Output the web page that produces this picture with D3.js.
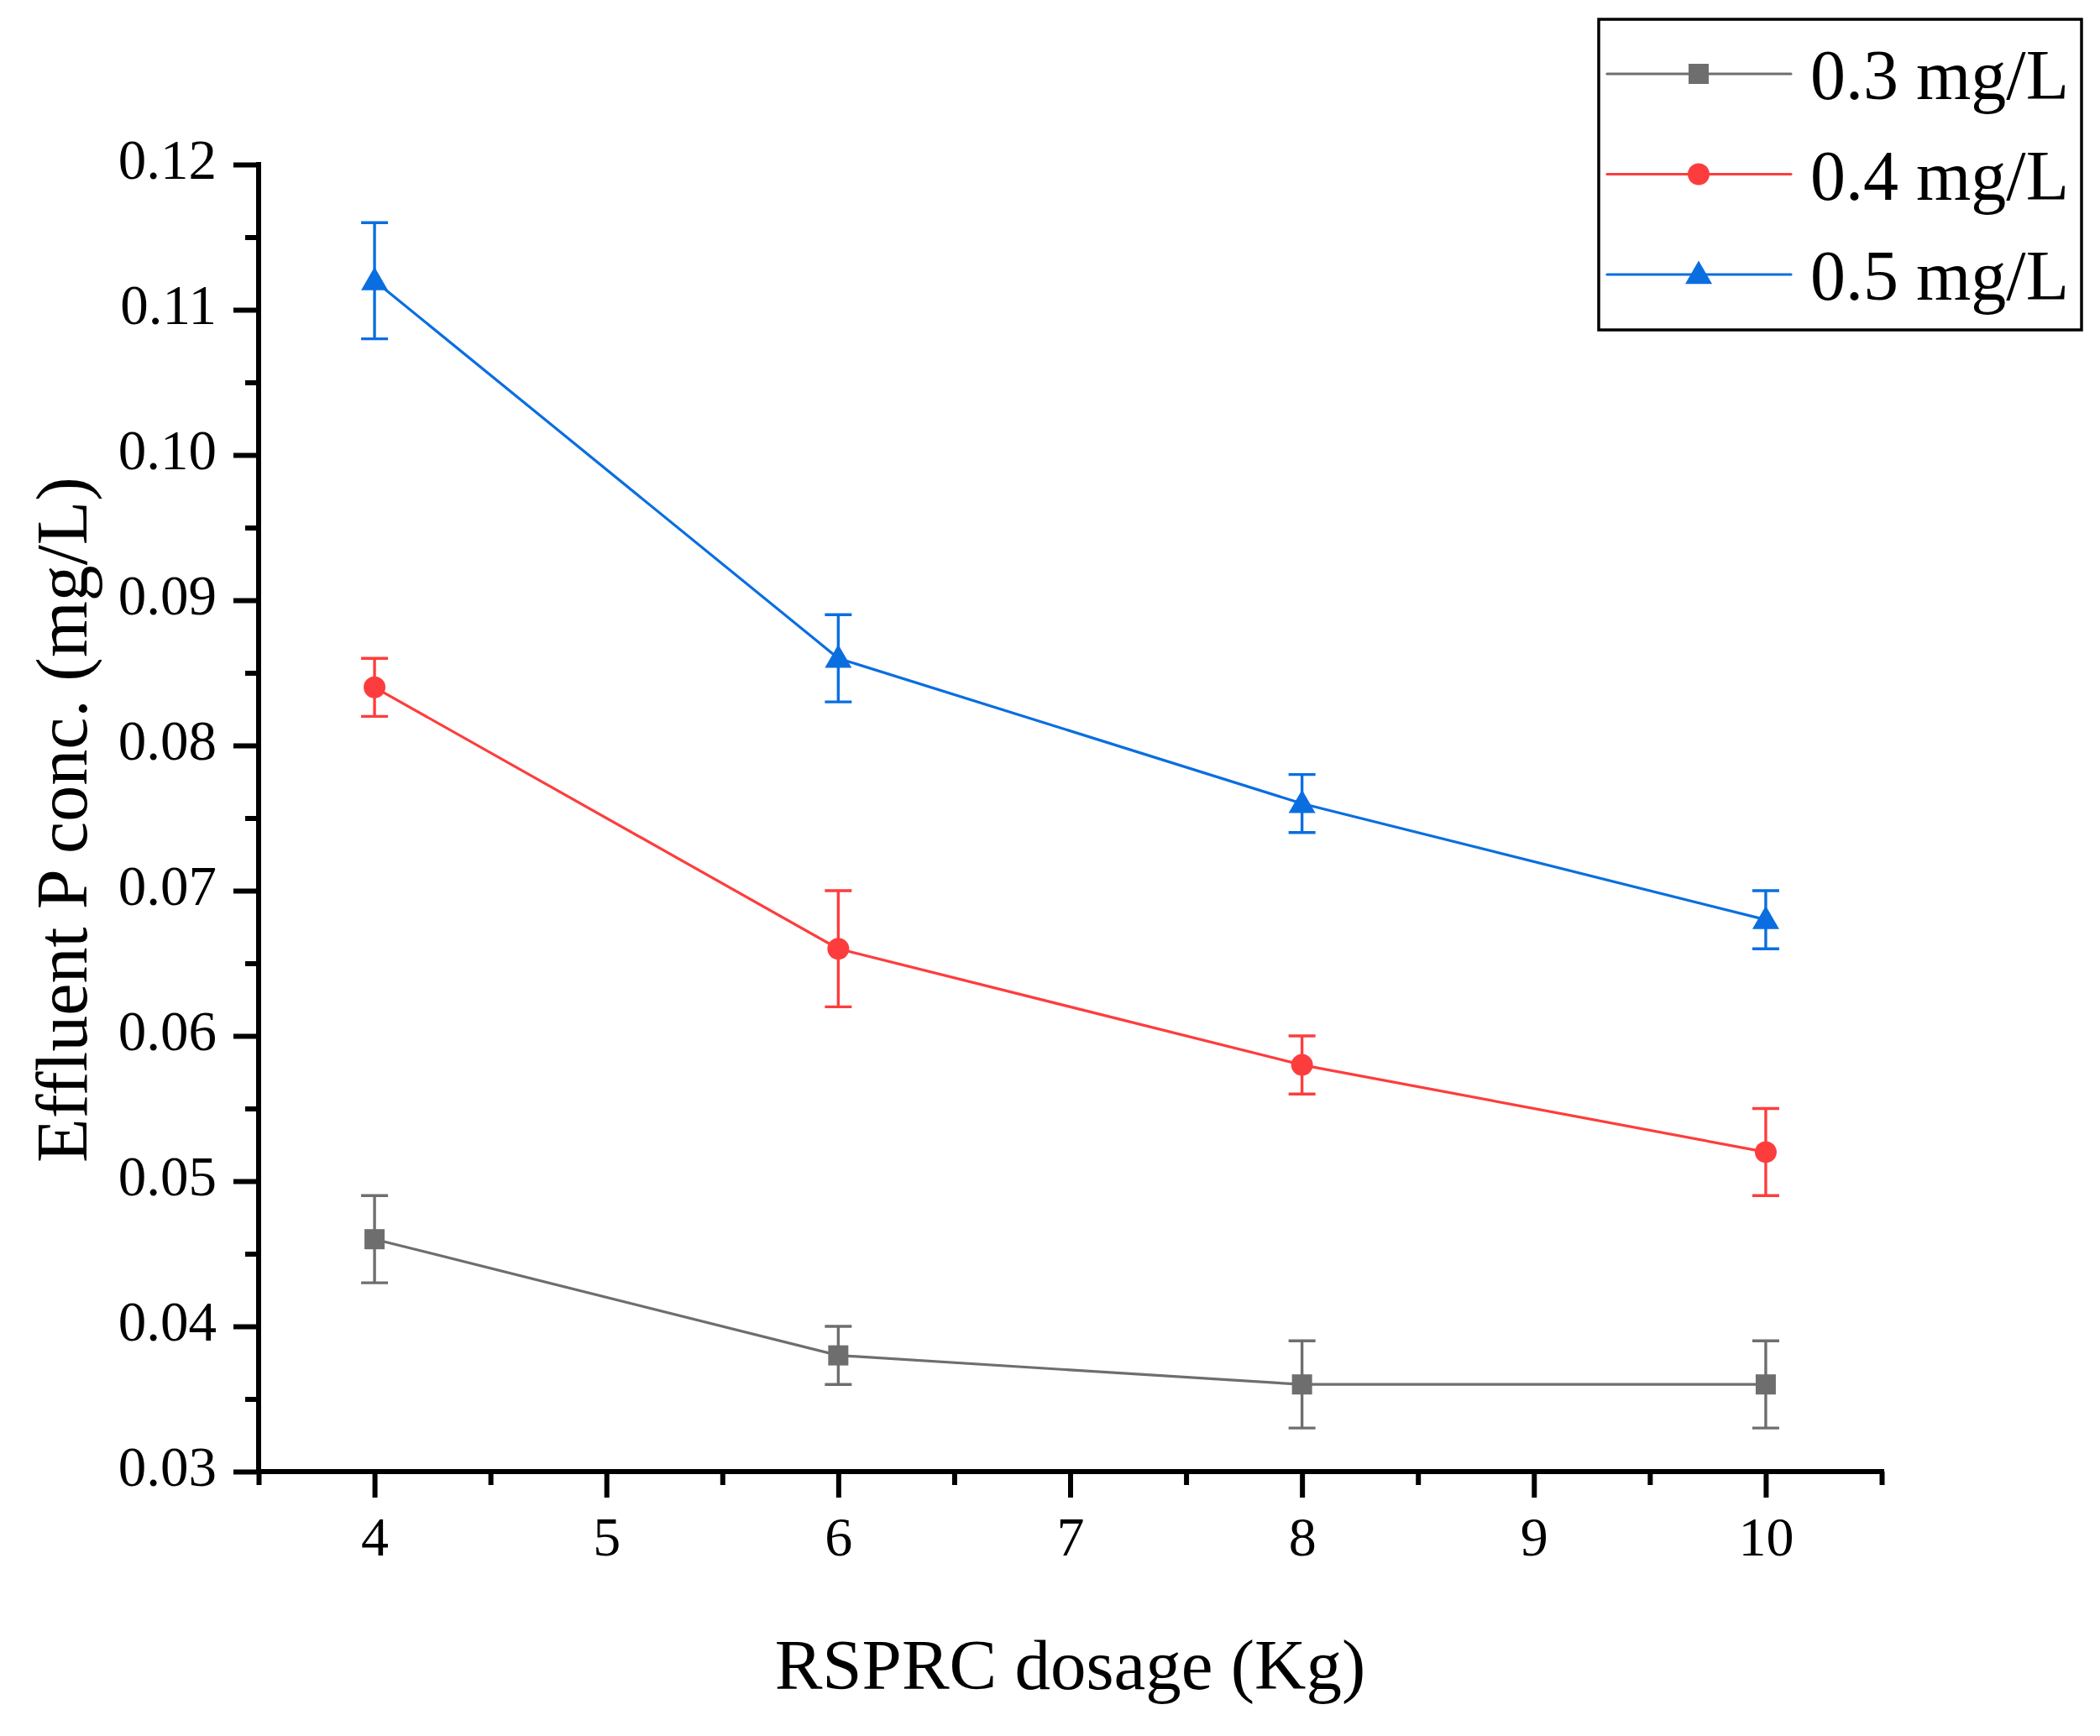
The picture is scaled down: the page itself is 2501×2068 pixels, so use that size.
<!DOCTYPE html>
<html>
<head>
<meta charset="utf-8">
<script src="https://cdn.jsdelivr.net/npm/d3@7"></script>
<style>
  html, body { margin: 0; padding: 0; background: #fff; }
  svg text { font-family: "Liberation Serif", "DejaVu Serif", serif; fill: #000; }
</style>
</head>
<body>
<div id="chart"></div>
<script>
// Data
const dosage = [4, 6, 8, 10];
const seriesNames = ['0.3 mg/L', '0.4 mg/L', '0.5 mg/L'];
const conc03 = [0.046, 0.038, 0.036, 0.036];
const err03 = [0.003, 0.002, 0.003, 0.003];
const conc04 = [0.084, 0.066, 0.058, 0.052];
const err04 = [0.002, 0.004, 0.002, 0.003];
const conc05 = [0.112, 0.086, 0.076, 0.068];
const err05 = [0.004, 0.003, 0.002, 0.002];
const xTicks = [4, 5, 6, 7, 8, 9, 10];
const yTicks = [0.03, 0.04, 0.05, 0.06, 0.07, 0.08, 0.09, 0.10, 0.11, 0.12];

const width = 2501;
const height = 2068;

const svg = d3.select('#chart')
    .append('svg')
    .attr('width', width)
    .attr('height', height);

// Scales
const x = d3.scaleLinear().domain([3.5, 10.5]).range([308, 2241]);
const y = d3.scaleLinear().domain([0.03, 0.12]).range([1753, 196]);

const series = [
    { name: seriesNames[0], vals: conc03, errs: err03, color: '#6e6e6e', shape: 'square' },
    { name: seriesNames[1], vals: conc04, errs: err04, color: '#fd3d3d', shape: 'circle' },
    { name: seriesNames[2], vals: conc05, errs: err05, color: '#0a6ee0', shape: 'triangle' }
];

// Axes: major + minor ticks, outward
const axisW = 6;
const xMinor = d3.range(3.5, 10.6, 1);
const yMinor = d3.range(0.035, 0.12, 0.01);

const xAxis = svg.append('g').attr('transform', `translate(0,${y(0.03)})`);
xAxis.append('g')
    .call(d3.axisBottom(x).tickValues(xTicks).tickSize(31).tickPadding(22).tickFormat(d3.format('d')))
    .call(g => g.select('.domain').remove())
    .call(g => g.selectAll('line').attr('stroke-width', axisW))
    .call(g => g.selectAll('text').attr('font-size', 66));
xAxis.append('g')
    .call(d3.axisBottom(x).tickValues(xMinor).tickSize(16).tickFormat(''))
    .call(g => g.select('.domain').remove())
    .call(g => g.selectAll('line').attr('stroke-width', axisW));
xAxis.append('line')
    .attr('x1', x(3.5) - axisW / 2).attr('x2', x(10.5) + axisW / 2)
    .attr('stroke', '#000').attr('stroke-width', axisW);

const yAxis = svg.append('g').attr('transform', `translate(${x(3.5)},0)`);
yAxis.append('g')
    .call(d3.axisLeft(y).tickValues(yTicks).tickSize(30).tickPadding(20).tickFormat(d3.format('.2f')))
    .call(g => g.select('.domain').remove())
    .call(g => g.selectAll('line').attr('stroke-width', axisW))
    .call(g => g.selectAll('text').attr('font-size', 67).attr('dy', '0.25em'));
yAxis.append('g')
    .call(d3.axisLeft(y).tickValues(yMinor).tickSize(16).tickFormat(''))
    .call(g => g.select('.domain').remove())
    .call(g => g.selectAll('line').attr('stroke-width', axisW));
yAxis.append('line')
    .attr('y1', y(0.12) - axisW / 2).attr('y2', y(0.03) + axisW / 2)
    .attr('stroke', '#000').attr('stroke-width', axisW);

// Axis titles
svg.append('text')
    .attr('x', (x(3.5) + x(10.5)) / 2)
    .attr('y', 2012)
    .attr('text-anchor', 'middle')
    .attr('font-size', 85)
    .text('RSPRC dosage (Kg)');

svg.append('text')
    .attr('transform', `translate(103,${(y(0.03) + y(0.12)) / 2 + 2}) rotate(-90)`)
    .attr('text-anchor', 'middle')
    .attr('font-size', 86)
    .text('Effluent P conc. (mg/L)');

// Marker symbols
function symbolPath(shape) {
    if (shape === 'square') return d3.symbol(d3.symbolSquare, 24 * 24)();
    if (shape === 'circle') return d3.symbol(d3.symbolCircle, Math.PI * 13 * 13)();
    return d3.symbol(d3.symbolTriangle, 32 * 32 * Math.sqrt(3) / 4)();
}

const line = d3.line()
    .x((d, i) => x(dosage[i]))
    .y(d => y(d));

const capW = 16;
series.forEach(s => {
    const g = svg.append('g');
    g.append('path')
        .datum(s.vals)
        .attr('fill', 'none')
        .attr('stroke', s.color)
        .attr('stroke-width', 3.2)
        .attr('d', line);

    // Error bars
    const eb = g.selectAll('.eb')
        .data(s.vals.map((v, i) => ({ x: dosage[i], v: v, e: s.errs[i] })))
        .enter().append('g');
    eb.append('line')
        .attr('x1', d => x(d.x)).attr('x2', d => x(d.x))
        .attr('y1', d => y(d.v + d.e)).attr('y2', d => y(d.v - d.e))
        .attr('stroke', s.color).attr('stroke-width', 3.4);
    [1, -1].forEach(sign => {
        eb.append('line')
            .attr('x1', d => x(d.x) - capW).attr('x2', d => x(d.x) + capW)
            .attr('y1', d => y(d.v + sign * d.e)).attr('y2', d => y(d.v + sign * d.e))
            .attr('stroke', s.color).attr('stroke-width', 3.4);
    });

    g.selectAll('.mk')
        .data(s.vals)
        .enter().append('path')
        .attr('transform', (d, i) => `translate(${x(dosage[i])},${y(d) + (s.shape === 'triangle' ? 2 : 0)})`)
        .attr('d', symbolPath(s.shape))
        .attr('fill', s.color);
});

// Legend
const legend = svg.append('g');
legend.append('rect')
    .attr('x', 1904).attr('y', 23)
    .attr('width', 575).attr('height', 370)
    .attr('fill', '#fff')
    .attr('stroke', '#000')
    .attr('stroke-width', 3.5);

const rowY = d3.scalePoint().domain(seriesNames).range([88, 327]);
series.forEach(s => {
    const ly = rowY(s.name);
    legend.append('line')
        .attr('x1', 1914).attr('x2', 2133)
        .attr('y1', ly).attr('y2', ly)
        .attr('stroke', s.color).attr('stroke-width', 3.2)
        .attr('stroke-linecap', 'round');
    legend.append('path')
        .attr('transform', `translate(2023,${ly + (s.shape === 'triangle' ? 2 : 0)})`)
        .attr('d', symbolPath(s.shape))
        .attr('fill', s.color);
    legend.append('text')
        .attr('x', 2156)
        .attr('y', ly + 30)
        .attr('font-size', 84)
        .text(s.name);
});
</script>
</body>
</html>
